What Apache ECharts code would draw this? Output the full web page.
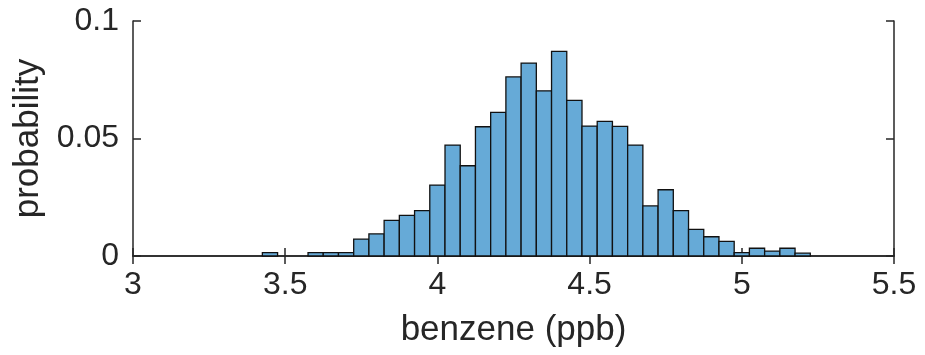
<!DOCTYPE html>
<html>
<head>
<meta charset="utf-8">
<script src="https://cdn.jsdelivr.net/npm/echarts@6/dist/echarts.min.js"></script>
<style>
  html, body { margin: 0; padding: 0; background: #fff; }
  #chart { width: 925px; height: 355px; }
</style>
</head>
<body>
<div id="chart"></div>
<script>
// Histogram of benzene concentration, probability-normalised, bin width 0.05 ppb
const binWidth = 0.05;
const binCenters = [
  3.45, 3.60, 3.65, 3.70, 3.75, 3.80, 3.85, 3.90, 3.95,
  4.00, 4.05, 4.10, 4.15, 4.20, 4.25, 4.30, 4.35, 4.40, 4.45,
  4.50, 4.55, 4.60, 4.65, 4.70, 4.75, 4.80, 4.85, 4.90, 4.95,
  5.00, 5.05, 5.10, 5.15, 5.20
];
const probabilities = [
  0.0014, 0.0014, 0.0014, 0.0014, 0.0072, 0.0094, 0.0152, 0.0173, 0.0193,
  0.0302, 0.0472, 0.0384, 0.0550, 0.0611, 0.0762, 0.0821, 0.0703, 0.0871, 0.0662,
  0.0553, 0.0573, 0.0552, 0.0472, 0.0213, 0.0282, 0.0193, 0.0113, 0.0082, 0.0062,
  0.0014, 0.0033, 0.0021, 0.0033, 0.0012
];
const xTicks = [3, 3.5, 4, 4.5, 5, 5.5];
const yTicks = [0, 0.05, 0.1];

const axisColor = '#262626';
const fontFamily = '"Liberation Sans", Arial, Helvetica, sans-serif';

const chart = echarts.init(document.getElementById('chart'), null, { renderer: 'canvas' });

const data = binCenters.map((c, i) => [c - binWidth / 2, c + binWidth / 2, probabilities[i]]);

function fmt(v) {
  return String(+v.toFixed(3));
}

const baseAxis = {
  axisLine: { show: true, lineStyle: { color: axisColor, width: 1.5 } },
  axisTick: { show: true, inside: true, length: 8, lineStyle: { color: axisColor, width: 1.5 } },
  splitLine: { show: false }
};

chart.setOption({
  animation: false,
  backgroundColor: '#fff',
  grid: { left: 133, right: 31, top: 21, bottom: 99, containLabel: false },
  xAxis: [
    Object.assign({}, baseAxis, {
      type: 'value', position: 'bottom',
      min: xTicks[0], max: xTicks[xTicks.length - 1], interval: 0.5,
      axisLabel: { color: axisColor, fontSize: 32, fontFamily, margin: 13, formatter: fmt },
      name: 'benzene (ppb)', nameLocation: 'middle', nameGap: 57,
      nameTextStyle: { color: axisColor, fontSize: 35, fontFamily }
    }),
    Object.assign({}, baseAxis, {
      type: 'value', position: 'top',
      min: xTicks[0], max: xTicks[xTicks.length - 1], interval: 0.5,
      axisLabel: { show: false }
    })
  ],
  yAxis: [
    Object.assign({}, baseAxis, {
      type: 'value', position: 'left',
      min: yTicks[0], max: yTicks[yTicks.length - 1], interval: 0.05,
      axisLabel: { color: axisColor, fontSize: 32, fontFamily, margin: 14, formatter: fmt },
      name: 'probability', nameLocation: 'middle', nameGap: 83,
      nameTextStyle: { color: axisColor, fontSize: 35, fontFamily }
    }),
    Object.assign({}, baseAxis, {
      type: 'value', position: 'right',
      min: yTicks[0], max: yTicks[yTicks.length - 1], interval: 0.05,
      axisLabel: { show: false }
    })
  ],
  series: [{
    type: 'custom',
    xAxisIndex: 0,
    yAxisIndex: 0,
    data: data,
    encode: { x: [0, 1], y: 2 },
    renderItem: function (params, api) {
      const p0 = api.coord([api.value(0), 0]);
      const p1 = api.coord([api.value(1), api.value(2)]);
      return {
        type: 'rect',
        shape: { x: p0[0], y: p1[1], width: p1[0] - p0[0], height: p0[1] - p1[1] },
        style: { fill: '#66aad7', stroke: '#111', lineWidth: 1.3 }
      };
    }
  }]
});
</script>
</body>
</html>
